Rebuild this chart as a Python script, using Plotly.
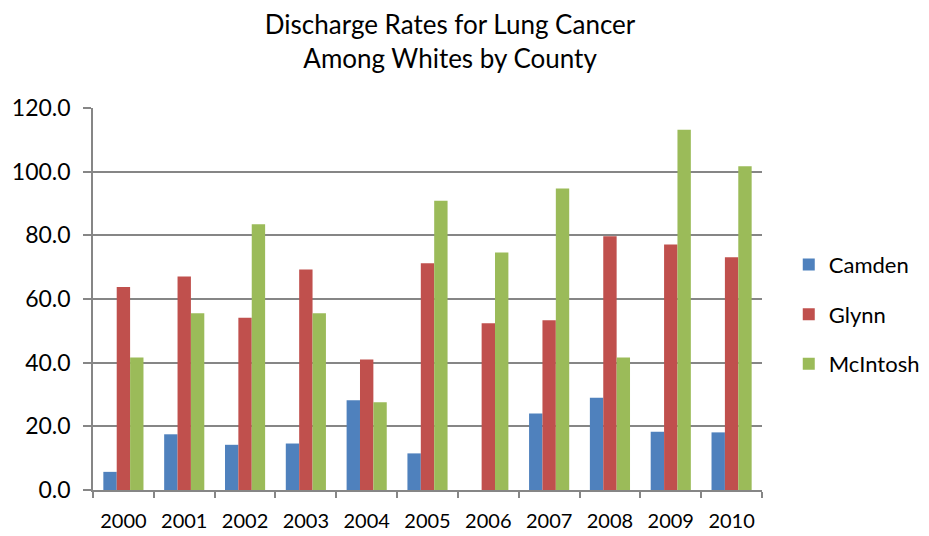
import plotly.graph_objects as go

years = ["2000", "2001", "2002", "2003", "2004", "2005", "2006", "2007", "2008", "2009", "2010"]
camden = [5.7, 17.5, 14.2, 14.6, 28.2, 11.5, 0.0, 24.0, 29.0, 18.3, 18.1]
glynn = [63.8, 67.1, 54.1, 69.3, 41.0, 71.2, 52.4, 53.3, 79.7, 77.1, 73.1]
mcintosh = [41.6, 55.5, 83.5, 55.5, 27.6, 90.9, 74.6, 94.7, 41.6, 113.2, 101.7]

series = [("Camden", camden, "#4F81BD"), ("Glynn", glynn, "#C0504D"), ("McIntosh", mcintosh, "#9BBB59")]

FONT = "Lato, Carlito, Calibri, sans-serif"
GRID = "#868686"

fig = go.Figure()
for name, vals, color in series:
    fig.add_trace(go.Bar(x=years, y=vals, name=name, legendgroup=name,
                         marker=dict(color=color, line=dict(width=0))))

# page body adds ~8px margin, so the figure is a bit smaller than the window
fig.update_layout(
    width=921, height=528,
    margin=dict(l=85, r=167, t=100, b=46, autoexpand=False),
    paper_bgcolor="white", plot_bgcolor="white",
    font=dict(family=FONT, color="black", size=19),
    title=dict(text="Discharge Rates for Lung Cancer<br>Among Whites by County",
               x=0.48, xanchor="center", yref="container", y=0.95, yanchor="top",
               font=dict(size=26)),
    barmode="group", bargap=0.34, bargroupgap=0,
    legend=dict(x=1.04, xanchor="left", y=0.46, yanchor="middle",
                font=dict(size=22), tracegroupgap=18, itemwidth=30),
)
fig.update_xaxes(showline=True, linecolor=GRID, linewidth=1.5, ticks="outside",
                 tickson="boundaries", tickcolor=GRID, ticklen=6, tickwidth=1.5,
                 tickfont=dict(size=20), ticklabelstandoff=12, automargin=False)
fig.update_yaxes(range=[0, 120], dtick=20, tickformat=".1f", showgrid=True,
                 gridcolor=GRID, gridwidth=1.5, showline=True, linecolor=GRID,
                 linewidth=1.5, ticks="outside", tickcolor=GRID, ticklen=8,
                 tickwidth=1.5, zeroline=False, tickfont=dict(size=23),
                 ticklabelstandoff=8, automargin=False)

fig.write_html("out.html")
